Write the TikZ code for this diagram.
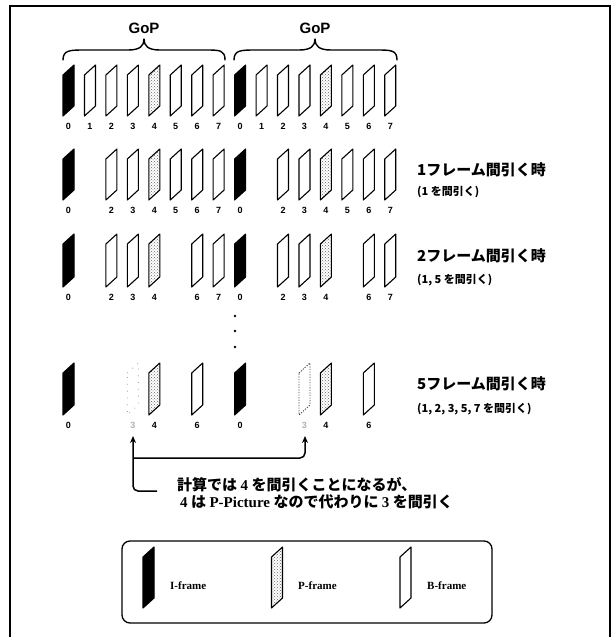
\documentclass[tikz,border=0pt]{standalone}
\usepackage{fontspec}
\setmainfont{Liberation Serif}
\newfontfamily\jp{Noto Sans CJK JP}
\newfontfamily\gsans{Liberation Sans}
\usetikzlibrary{patterns,arrows.meta}

\tikzset{
  fb/.style={draw=black, line width=1.1pt, line join=round},
  ifr/.style={fb, fill=black},
  pfr/.style={fb, pattern=crosshatch dots, pattern color=black!60},
  bfr/.style={fb, fill=white},
  gh1/.style={draw=black!35, line width=0.9pt, dash pattern=on 0.8pt off 6pt},
  gh2/.style={draw=black!70, line width=0.9pt, dash pattern=on 1.2pt off 1.4pt},
  num/.style={font=\gsans\bfseries\fontsize{9}{9}\selectfont, inner sep=0pt},
  gnum/.style={num, text=black!30},
  rowlbl/.style={font=\jp\bfseries\fontsize{15}{15}\selectfont, inner sep=0pt, anchor=west},
  sublbl/.style={font=\jp\bfseries\fontsize{11}{11}\selectfont, inner sep=0pt, anchor=west},
  goplbl/.style={font=\gsans\bfseries\fontsize{15}{15}\selectfont, inner sep=0pt},
  cmt/.style={font=\jp\bfseries\fontsize{15}{15}\selectfont, inner sep=0pt, anchor=west},
  leglbl/.style={font=\bfseries\fontsize{11}{11}\selectfont, inner sep=0pt, anchor=west},
  conn/.style={line width=1.5pt, rounded corners=5pt, -{Stealth[length=7pt,width=6pt]}},
  brc/.style={line width=1.4pt, line cap=round, line join=round},
  border/.style={line width=2pt},
}

% frame: style, x-left, top, height
\newcommand\FR[4]{%
  \path[#1] (#2,#3+10) -- (#2+11,#3) -- (#2+11,#3+#4-10) -- (#2,#3+#4) -- cycle;}

% one row: row id, top, height, I list, P list, B list
\newcommand\ROW[6]{%
  \foreach \k in {#4} {\pgfmathsetmacro\x{63+21.45*\k}\pgfmathtruncatemacro\n{mod(\k,8)}%
    \FR{ifr}{\x}{#2}{#3}\node[num] (#1n\k) at (\x+5.5,#2+#3+10) {\n};}
  \foreach \k in {#5} {\pgfmathsetmacro\x{63+21.45*\k}\pgfmathtruncatemacro\n{mod(\k,8)}%
    \FR{pfr}{\x}{#2}{#3}\node[num] (#1n\k) at (\x+5.5,#2+#3+10) {\n};}
  \foreach \k in {#6} {\pgfmathsetmacro\x{63+21.45*\k}\pgfmathtruncatemacro\n{mod(\k,8)}%
    \FR{bfr}{\x}{#2}{#3}\node[num] (#1n\k) at (\x+5.5,#2+#3+10) {\n};}
}

\begin{document}
\begin{tikzpicture}[x=1pt,y=-1pt]
\useasboundingbox (0,0) rectangle (612,637);
\fill[white] (0,0) rectangle (612,637);

% outer border
\draw[border] (10,640) -- (10,6) -- (610,6) -- (610,640);

% GoP braces
\draw[brc] (63,60) .. controls (63,50) and (70,50) .. (85,50) -- (128,50)
  .. controls (140,50) and (144,46) .. (144,39)
  .. controls (144,46) and (148,50) .. (160,50) -- (205,50)
  .. controls (220,50) and (225,50) .. (225,60);
\draw[brc] (234,60) .. controls (234,50) and (241,50) .. (256,50) -- (299,50)
  .. controls (311,50) and (315,46) .. (315,39)
  .. controls (315,46) and (319,50) .. (331,50) -- (376,50)
  .. controls (391,50) and (397,50) .. (397,60);
\node[goplbl] (gop1) at (144,28) {GoP};
\node[goplbl] (gop2) at (315,28) {GoP};

% rows
\ROW{a}{65}{51}{0,8}{4,12}{1,2,3,5,6,7,9,10,11,13,14,15}
\ROW{b}{149}{51}{0,8}{4,12}{2,3,5,6,7,10,11,13,14,15}
\ROW{c}{234}{53}{0,8}{4,12}{2,3,6,7,10,11,14,15}
\ROW{d}{363}{52}{0,8}{4,12}{6,14}

% ghost frames (thinned-out 3)
\FR{gh1}{127.35}{363}{52}
\FR{gh2}{298.95}{363}{52}
\node[gnum] (dn3) at (132.85,425) {3};
\node[gnum] (dn11) at (304.45,425) {3};

% continuation dots
\fill (235,316) circle (1.4) (235,331) circle (1.4) (235,347) circle (1.4);

% row labels
\node[rowlbl] (l1) at (417,170) {1フレーム間引く時};
\node[sublbl] (s1) at (417,192) {(1 を間引く)};
\node[rowlbl] (l2) at (417,256) {2フレーム間引く時};
\node[sublbl] (s2) at (417,280) {(1, 5 を間引く)};
\node[rowlbl] (l5) at (417,384) {5フレーム間引く時};
\node[sublbl] (s5) at (417,409) {(1, 2, 3, 5, 7 を間引く)};

% connectors to the ghost frames
\coordinate (g1) at (133,436);
\coordinate (g2) at (305,436);
\coordinate (cstart) at (157,491);
\coordinate (branch) at (133,458);
\draw[conn] (cstart) -- (133,491) -- (g1);
\draw[conn] (branch) -- (305,458) -- (g2);

% comment
\node[cmt] (c1) at (177,485) {計算では {\rmfamily 4} を間引くことになるが、};
\node[cmt] (c2) at (180,502) {{\rmfamily 4} は {\rmfamily P-Picture} なので代わりに {\rmfamily 3} を間引く};

% legend
\draw[line width=1.3pt, rounded corners=8pt] (122,541) rectangle (492,623);
\FR{ifr}{143}{547}{61}
\FR{pfr}{271.5}{547}{61}
\FR{bfr}{400}{547}{61}
\node[leglbl] (li) at (170,586) {I-frame};
\node[leglbl] (lp) at (298,586) {P-frame};
\node[leglbl] (lb) at (427,586) {B-frame};
\end{tikzpicture}
\end{document}
